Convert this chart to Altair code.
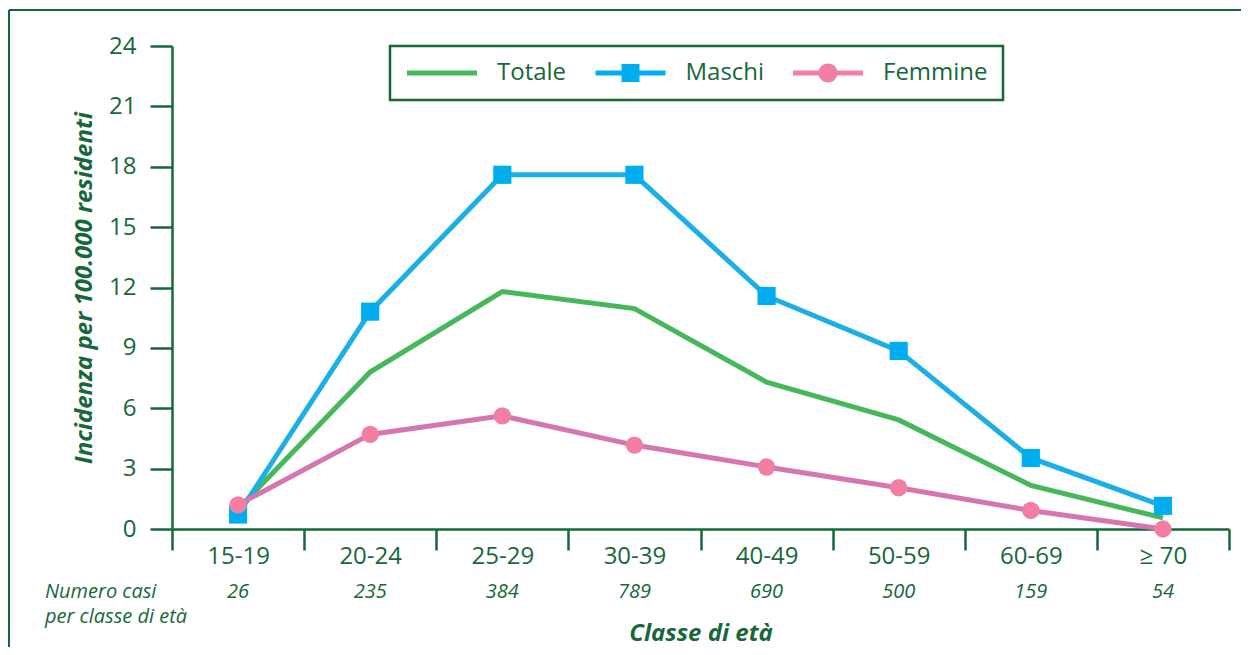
import altair as alt
import pandas as pd

categories = ["15-19", "20-24", "25-29", "30-39", "40-49", "50-59", "60-69", "≥ 70"]
totale = [1.0, 7.8, 11.8, 10.95, 7.3, 5.42, 2.17, 0.55]
maschi = [0.72, 10.8, 17.6, 17.6, 11.58, 8.85, 3.53, 1.15]
femmine = [1.2, 4.7, 5.62, 4.17, 3.08, 2.05, 0.92, 0.0]
casi = [26, 235, 384, 789, 690, 500, 159, 54]
series = ["Totale", "Maschi", "Femmine"]
line_colors = ["#46b75a", "#1cafe5", "#d476b0"]
marker_colors = ["#46b75a", "#00adee", "#f27ea4"]
y_ticks = [0, 3, 6, 9, 12, 15, 18, 21, 24]

W, H = 1057, 483
GREEN = "#17673b"
FONT = "Open Sans"

rows = []
for s, vals in zip(series, [totale, maschi, femmine]):
    for c, v in zip(categories, vals):
        rows.append({"cat": c, "serie": s, "v": v})
df = pd.DataFrame(rows)
df_cat = pd.DataFrame({"cat": categories, "casi": casi})
leg_df = pd.DataFrame({"cat": [categories[0]] * 3, "serie": series, "v": [None] * 3})

# legend symbols (unit = 10 px with symbolSize 400): line 70 px long with marker in the middle
p_line = "M-1,-0.25L6,-0.25L6,0.25L-1,0.25Z"
p_square = p_line + "M1.6,-0.9L3.4,-0.9L3.4,0.9L1.6,0.9Z"
p_circle = p_line + "M1.55,0A0.95,0.95 0 1 1 3.45,0A0.95,0.95 0 1 1 1.55,0Z"

x_scale = alt.Scale(type="band", domain=categories, paddingInner=0, paddingOuter=0)
y_scale = alt.Scale(domain=[0, 24], nice=False)

x_axis = alt.Axis(
    title="Classe di età", tickBand="extent", tickSize=21, tickWidth=2.5,
    domainWidth=2.5, domainColor=GREEN, tickColor=GREEN, labelColor=GREEN,
    labelFont=FONT, labelFontSize=24, labelPadding=-6, labelAngle=0, grid=False,
    titleFont=FONT, titleFontSize=24, titleFontStyle="italic", titleFontWeight="bold",
    titleColor=GREEN, titleY=104, titleBaseline="middle",
)
y_axis = alt.Axis(
    title="Incidenza per 100.000 residenti", values=y_ticks, tickSize=22, tickWidth=2.5,
    domainWidth=2.5, domainColor=GREEN, tickColor=GREEN, labelColor=GREEN,
    labelFont=FONT, labelFontSize=24, labelPadding=14, grid=False,
    titleFont=FONT, titleFontSize=24, titleFontStyle="italic", titleFontWeight="bold",
    titleColor=GREEN, titleX=-88, titleY=H / 2, titleAngle=270,
    titleBaseline="middle", titleAlign="center",
)

def X(axis=None):
    if axis is None:
        return alt.X("cat:N", scale=x_scale, sort=categories, bandPosition=0.5, title="Classe di età")
    return alt.X("cat:N", scale=x_scale, sort=categories, bandPosition=0.5, axis=axis)

def Y(axis=None):
    if axis is None:
        return alt.Y("v:Q", scale=y_scale, title="Incidenza per 100.000 residenti")
    return alt.Y("v:Q", scale=y_scale, axis=axis)

lines = alt.Chart(df).mark_line(strokeWidth=5).encode(
    x=X(x_axis), y=Y(y_axis),
    color=alt.Color("serie:N", scale=alt.Scale(domain=series, range=line_colors), legend=None),
)

squares = alt.Chart(df).transform_filter(alt.datum.serie == "Maschi").mark_point(
    shape="square", filled=True, size=330, color=marker_colors[1], opacity=1
).encode(x=X(), y=Y())

circles = alt.Chart(df).transform_filter(alt.datum.serie == "Femmine").mark_point(
    shape="circle", filled=True, size=300, color=marker_colors[2], opacity=1
).encode(x=X(), y=Y())

leg = alt.Legend(
    orient="none", legendX=218, legendY=0, direction="horizontal", title=None,
    labelFont=FONT, labelFontSize=24, labelColor=GREEN, symbolSize=400,
    symbolStrokeWidth=0, labelOffset=68, columnPadding=26.5, padding=15,
    strokeColor=GREEN,
)
legend_layer = alt.Chart(leg_df).mark_point(filled=True, size=400, strokeWidth=0, opacity=1).encode(
    x=X(), y=Y(),
    color=alt.Color("serie:N", scale=alt.Scale(domain=series, range=marker_colors), legend=leg),
    shape=alt.Shape("serie:N", scale=alt.Scale(domain=series, range=[p_line, p_square, p_circle]), legend=leg),
)

counts = alt.Chart(df_cat).mark_text(
    font=FONT, fontSize=20, fontStyle="italic", color=GREEN, baseline="middle"
).encode(x=X(), y=alt.value(H + 63), text="casi:Q")

note = alt.Chart(pd.DataFrame({"t": ["Numero casi\nper classe di età"]})).mark_text(
    font=FONT, fontSize=20, fontStyle="italic", color=GREEN, align="left",
    baseline="middle", lineBreak="\n", lineHeight=25
).encode(x=alt.value(-127), y=alt.value(H + 63), text="t:N")

one = pd.DataFrame({"a": [0]})
frame_left = alt.Chart(one).mark_rule(color=GREEN, strokeWidth=2).encode(
    x=alt.value(-163), y=alt.value(-36), y2=alt.value(H + 118))
frame_top = alt.Chart(one).mark_rule(color=GREEN, strokeWidth=2).encode(
    x=alt.value(-163), x2=alt.value(W + 12), y=alt.value(-36))

chart = alt.layer(
    lines, squares, circles, legend_layer, counts, note, frame_left, frame_top
).resolve_scale(color="independent", shape="independent").properties(
    width=W, height=H,
    padding={"left": 0, "top": 1, "right": 0, "bottom": 0},
).configure_view(stroke=None).configure_legend(strokeWidth=2.5)

chart.save("out.html", embed_options={"renderer": "svg", "actions": False})
